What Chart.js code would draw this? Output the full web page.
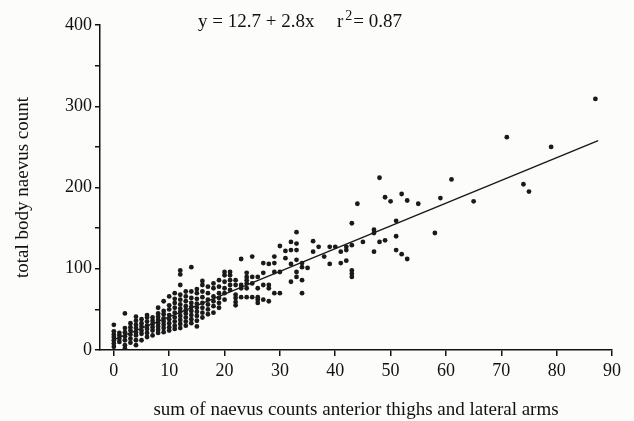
<!DOCTYPE html>
<html>
<head>
<meta charset="utf-8">
<script src="https://cdn.jsdelivr.net/npm/chart.js@4/dist/chart.umd.min.js"></script>
<style>
  html, body { margin: 0; padding: 0; background: #fcfcfa; }
  #wrap { width: 634px; height: 421px; }
</style>
</head>
<body>
<div id="wrap"><canvas id="naevusChart" width="634" height="421"></canvas></div>
<script>
// sum of counts on anterior thighs + lateral arms (x), one entry per column of dots
const sumThighsArms = [0, 1, 2, 3, 4, 5, 6, 7, 8, 9, 10, 11, 12, 13, 14, 15, 16, 17, 18, 19,
  20, 21, 22, 23, 24, 25, 26, 27, 28, 29, 30, 31, 32, 33, 34, 35, 36, 37, 38, 39,
  40, 41, 42, 43, 44, 45, 47, 48, 49, 50, 51, 52, 53, 55, 58, 59, 61, 65, 71, 74, 75, 79, 87];

// total body naevus counts for each column above
const totalBody = [
  [4, 8, 12, 16, 19, 23, 31],
  [10, 14, 18, 21],
  [2, 6, 12, 17, 22, 27, 45],
  [9, 14, 19, 24, 28, 33],
  [6, 12, 18, 22, 27, 31, 36, 41],
  [12, 20, 24, 29, 33, 38],
  [16, 21, 26, 30, 35, 40, 43],
  [18, 24, 28, 32, 36, 40],
  [21, 25, 29, 33, 37, 41, 45, 52],
  [22, 27, 31, 35, 39, 44, 48, 60],
  [24, 28, 33, 38, 43, 50, 55, 66],
  [26, 30, 35, 40, 46, 52, 58, 63, 70],
  [27, 32, 37, 42, 47, 51, 56, 62, 68, 80, 93, 98],
  [30, 35, 40, 45, 49, 54, 60, 66, 72],
  [33, 38, 43, 48, 53, 58, 64, 72, 102],
  [29, 36, 42, 47, 52, 57, 63, 70, 75],
  [40, 46, 52, 58, 65, 72, 80, 85],
  [44, 50, 56, 62, 70, 78],
  [46, 54, 60, 66, 76, 82],
  [52, 58, 64, 70, 78, 86],
  [62, 70, 76, 84, 92, 96],
  [74, 80, 86, 92, 96],
  [55, 59, 64, 68, 80, 86],
  [65, 76, 80, 112],
  [65, 76, 82, 86, 90, 95],
  [65, 82, 90, 115],
  [58, 62, 65, 76, 90],
  [62, 80, 95, 107],
  [60, 76, 80, 106],
  [70, 96, 107, 115],
  [70, 96, 128],
  [113, 122],
  [84, 106, 123, 133],
  [90, 96, 111, 123, 131, 145],
  [70, 86, 102, 107],
  [101],
  [121, 134],
  [127],
  [115],
  [106, 127],
  [127],
  [107, 121],
  [110, 123, 127],
  [90, 94, 98, 129, 156],
  [180],
  [133],
  [121, 144, 148],
  [133, 212],
  [135, 188],
  [183],
  [123, 140, 159],
  [118, 192],
  [112, 184],
  [180],
  [144],
  [187],
  [210],
  [183],
  [262],
  [204],
  [195],
  [250],
  [309]
];

// fitted line y = 12.7 + 2.8x
const fitIntercept = 12.7;
const fitSlope = 2.8;
const fitRange = [0, 87.5];

const xTicks = [0, 10, 20, 30, 40, 50, 60, 70, 80, 90];
const yTicks = [0, 50, 100, 150, 200, 250, 300, 350, 400];
const yLabelled = [0, 100, 200, 300, 400];

const points = [];
sumThighsArms.forEach((x, i) => {
  totalBody[i].forEach(y => points.push({x: x, y: y}));
});
const fitLine = fitRange.map(x => ({x: x, y: fitIntercept + fitSlope * x}));

const serif = '"Liberation Serif", "DejaVu Serif", serif';

// equation text above the plot
const equationPlugin = {
  id: 'equation',
  afterDraw(chart) {
    const ctx = chart.ctx;
    ctx.save();
    ctx.fillStyle = '#111';
    ctx.textBaseline = 'alphabetic';
    const base = 27;
    ctx.font = '19px ' + serif;
    ctx.fillText('y = 12.7 + 2.8x', 198, base);
    let x = 337;
    ctx.fillText('r', x, base);
    x += ctx.measureText('r').width + 2;
    ctx.font = '14px ' + serif;
    ctx.fillText('2', x, base - 7);
    x += ctx.measureText('2').width + 1;
    ctx.font = '19px ' + serif;
    ctx.fillText('= 0.87', x, base);
    ctx.restore();
  }
};

new Chart(document.getElementById('naevusChart').getContext('2d'), {
  type: 'scatter',
  data: {
    datasets: [{
      label: 'subjects',
      data: points,
      backgroundColor: '#1a1a1a',
      borderColor: '#1a1a1a',
      pointRadius: 2.4,
      pointBorderWidth: 0
    }, {
      type: 'line',
      label: 'fit',
      data: fitLine,
      borderColor: '#1a1a1a',
      borderWidth: 1.5,
      pointRadius: 0,
      fill: false
    }]
  },
  options: {
    responsive: false,
    animation: false,
    layout: { padding: { top: 25, right: 22, left: 0, bottom: 0 } },
    plugins: {
      legend: { display: false },
      tooltip: { enabled: false }
    },
    scales: {
      x: {
        type: 'linear',
        min: -2.5,
        max: 90,
        afterBuildTicks: s => { s.ticks = xTicks.map(v => ({value: v})); },
        afterFit: s => { s.height = 71; },
        border: { display: true, color: '#111', width: 1.5 },
        grid: { drawOnChartArea: false, drawTicks: true, tickLength: 6, color: '#111', lineWidth: 1.5 },
        ticks: { color: '#111', font: { family: serif, size: 18 }, padding: 4, maxRotation: 0 },
        title: {
          display: true,
          text: 'sum of naevus counts anterior thighs and lateral arms',
          color: '#111',
          font: { family: serif, size: 19 },
          padding: { top: 4, bottom: 0 }
        }
      },
      y: {
        type: 'linear',
        min: 0,
        max: 400,
        afterBuildTicks: s => { s.ticks = yTicks.map(v => ({value: v})); },
        afterFit: s => { s.width = 100; },
        border: { display: true, color: '#111', width: 1.5 },
        grid: { drawOnChartArea: false, drawTicks: true, tickLength: 5, color: '#111', lineWidth: 1.5 },
        ticks: {
          color: '#111',
          font: { family: serif, size: 18 },
          padding: 3,
          callback: v => yLabelled.includes(v) ? String(v) : ''
        },
        title: {
          display: true,
          text: 'total body naevus count',
          color: '#111',
          font: { family: serif, size: 19 },
          padding: { top: 12, bottom: 0 }
        }
      }
    }
  },
  plugins: [equationPlugin]
});
</script>
</body>
</html>
